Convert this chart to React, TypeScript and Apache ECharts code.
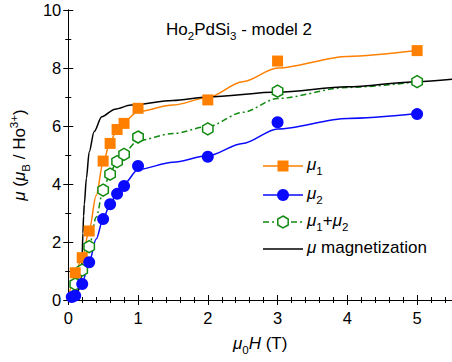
import React, { useEffect, useRef } from "react";
import * as echarts from "echarts";

// ---- data ----
const fieldX = [0.1, 0.2, 0.3, 0.5, 0.6, 0.7, 0.8, 1, 2, 3, 5];
const mu1Values = [0.94, 1.46, 2.38, 4.79, 5.4, 5.88, 6.09, 6.61, 6.9, 8.24, 8.6];
const mu2X = [0.05, 0.1, 0.2, 0.3, 0.5, 0.6, 0.7, 0.8, 1, 2, 3, 5];
const mu2Values = [0.1, 0.15, 0.55, 1.3, 2.79, 3.3, 3.66, 3.93, 4.62, 4.94, 6.13, 6.41];
const mu12Values = [0.55, 1.03, 1.84, 3.79, 4.34, 4.77, 5.02, 5.62, 5.9, 7.2, 7.53];

const fitX = [0, 0.05, 0.1, 0.2, 0.3, 0.4, 0.5, 0.6, 0.7, 0.8, 1, 1.5, 2, 2.5, 3, 4, 5];
const fit1 = [0, 0.5, 0.95, 1.45, 2.4, 3.6, 4.75, 5.45, 5.9, 6.15, 6.5, 6.72, 6.98, 7.53, 8.0, 8.4, 8.6];
const fit2 = [0, 0.08, 0.15, 0.6, 1.3, 2.1, 2.8, 3.3, 3.7, 4.0, 4.5, 4.75, 4.97, 5.4, 5.9, 6.26, 6.43];
const fit12 = [0, 0.29, 0.55, 1.03, 1.85, 2.85, 3.78, 4.38, 4.8, 5.08, 5.5, 5.74, 5.98, 6.47, 6.95, 7.33, 7.52];

const magX = [0, 0.1, 0.15, 0.19, 0.2, 0.21, 0.22, 0.23, 0.26, 0.3, 0.37, 0.48, 0.67, 0.9, 1.5, 2, 3, 4, 5, 5.5];
const magValues = [0, 0.15, 0.35, 0.8, 1.6, 2.3, 2.9, 3.3, 4.2, 5.1, 5.8, 6.32, 6.58, 6.72, 6.88, 7.0, 7.17, 7.35, 7.53, 7.61];

const xTicks = [0, 1, 2, 3, 4, 5];
const yTicks = [0, 2, 4, 6, 8, 10];

const ORANGE = "#ff8000";
const BLUE = "#0a0aff";
const GREEN = "#108a10";
const FONT = "'Liberation Sans', Arial, sans-serif";
const HEX = "path://M0,-10L8.66,-5L8.66,5L0,10L-8.66,5L-8.66,-5Z";
const GREEN_DASH = [6, 3, 2, 3];

const pairs = (xs: number[], ys: number[]) => xs.map((x, i) => [x, ys[i]]);

const mkRich = (size: number) => {
  const base = { fontFamily: FONT, color: "#000", fontWeight: "normal", verticalAlign: "bottom" };
  const small = size * 0.68;
  return {
    n: { ...base, fontSize: size, lineHeight: 20, padding: [0, 0, 4, 0] },
    i: { ...base, fontSize: size, lineHeight: 20, padding: [0, 0, 4, 0], fontStyle: "italic" },
    s: { ...base, fontSize: small, lineHeight: 14 },
    p: { ...base, fontSize: small, lineHeight: 14, padding: [0, 0, 12, 0] },
  };
};

export default function App() {
  const ref = useRef<HTMLDivElement>(null);
  useEffect(() => {
    if (!ref.current) return;
    const chart = echarts.init(ref.current, null, { renderer: "svg" });
    const rich = mkRich(17);
    const axisCommon = {
      axisLine: { show: true, lineStyle: { color: "#000", width: 1 } },
      axisTick: { show: true, inside: true, length: 5, lineStyle: { color: "#000", width: 1 } },
      minorTick: { show: true, length: 3, lineStyle: { color: "#000", width: 1 } },
      splitLine: { show: false },
      minorSplitLine: { show: false },
    };
    const xBase = { type: "value", min: 0, max: 5.5, interval: 1, ...axisCommon, minorTick: { ...axisCommon.minorTick, splitNumber: 5 } };
    const yBase = { type: "value", min: 0, max: 10, interval: 2, ...axisCommon, minorTick: { ...axisCommon.minorTick, splitNumber: 2 } };

    const legendRows = [166, 195, 222, 249];
    const lx1 = 263, lx2 = 303, lxm = 283, tx = 307;
    const hexPts = (cx: number, cy: number, r: number) =>
      [0, 1, 2, 3, 4, 5].map((k) => {
        const a = -Math.PI / 2 + (k * Math.PI) / 3;
        return [cx + r * Math.cos(a), cy + r * Math.sin(a)];
      });
    const legendText = [
      "{i|μ}{s|1}",
      "{i|μ}{s|2}",
      "{i|μ}{s|1}{n|+}{i|μ}{s|2}",
      "{i|μ}{n| magnetization}",
    ];

    chart.setOption({
      animation: false,
      backgroundColor: "#fff",
      title: {
        text: "{n|Ho}{s|2}{n|PdSi}{s|3}{n| - model 2}",
        left: 166,
        top: 22,
        padding: 0,
        textStyle: { rich, fontWeight: "normal" },
      },
      grid: { left: 62, top: 10, width: 390, height: 290, containLabel: false },
      xAxis: [
        {
          ...xBase,
          position: "bottom",
          axisLabel: {
            show: true,
            fontSize: 16.5,
            color: "#000",
            fontFamily: FONT,
            margin: 9,
            showMaxLabel: false,
            formatter: (v: number) => (xTicks.includes(v) ? String(v) : ""),
          },
          name: "{i|μ}{s|0}{i|H}{n| (T)}",
          nameLocation: "middle",
          nameGap: 36,
          nameTextStyle: { rich },
        },
        { ...xBase, position: "top", axisLabel: { show: false } },
      ],
      yAxis: [
        {
          ...yBase,
          position: "left",
          axisLabel: {
            show: true,
            fontSize: 16.5,
            color: "#000",
            fontFamily: FONT,
            margin: 7,
            formatter: (v: number) => (yTicks.includes(v) ? String(v) : ""),
          },
          name: "{i|μ}{n| (}{i|μ}{s|B}{n| / Ho}{p|3+}{n|)}",
          nameLocation: "middle",
          nameGap: 19,
          nameTextStyle: { rich },
        },
        { ...yBase, position: "right", axisLabel: { show: false } },
      ],
      series: [
        {
          type: "line", data: pairs(fitX, fit1), smooth: 0.3, smoothMonotone: "x", showSymbol: false,
          lineStyle: { color: ORANGE, width: 1.5 }, z: 2,
        },
        {
          type: "line", data: pairs(fitX, fit2), smooth: 0.3, smoothMonotone: "x", showSymbol: false,
          lineStyle: { color: BLUE, width: 1.5 }, z: 2,
        },
        {
          type: "line", data: pairs(fitX, fit12), smooth: 0.3, smoothMonotone: "x", showSymbol: false,
          lineStyle: { color: GREEN, width: 1.5, type: GREEN_DASH }, z: 2,
        },
        {
          type: "line", data: pairs(magX, magValues), smooth: 0.3, smoothMonotone: "x", showSymbol: false,
          lineStyle: { color: "#000", width: 1.5 }, z: 3,
        },
        {
          type: "scatter", data: pairs(fieldX, mu12Values), symbol: HEX, symbolKeepAspect: true, symbolSize: 12,
          itemStyle: { color: "#fff", borderColor: GREEN, borderWidth: 1.5, opacity: 1 }, z: 4,
        },
        {
          type: "scatter", data: pairs(fieldX, mu1Values), symbol: "rect", symbolSize: 11,
          itemStyle: { color: ORANGE, opacity: 1 }, z: 5,
        },
        {
          type: "scatter", data: pairs(mu2X, mu2Values), symbol: "circle", symbolSize: 12,
          itemStyle: { color: BLUE, opacity: 1 }, z: 6,
        },
      ],
      graphic: [
        { type: "line", shape: { x1: lx1, y1: legendRows[0], x2: lx2, y2: legendRows[0] }, style: { stroke: ORANGE, lineWidth: 1.5 } },
        { type: "rect", shape: { x: lxm - 5.5, y: legendRows[0] - 5.5, width: 11, height: 11 }, style: { fill: ORANGE } },
        { type: "line", shape: { x1: lx1, y1: legendRows[1], x2: lx2, y2: legendRows[1] }, style: { stroke: BLUE, lineWidth: 1.5 } },
        { type: "circle", shape: { cx: lxm, cy: legendRows[1], r: 6 }, style: { fill: BLUE } },
        { type: "line", shape: { x1: lx1, y1: legendRows[2], x2: lx2, y2: legendRows[2] }, style: { stroke: GREEN, lineWidth: 1.5, lineDash: GREEN_DASH } },
        { type: "polygon", shape: { points: hexPts(lxm, legendRows[2], 6) }, style: { fill: "#fff", stroke: GREEN, lineWidth: 1.5 } },
        { type: "line", shape: { x1: lx1, y1: legendRows[3], x2: lx2, y2: legendRows[3] }, style: { stroke: "#000", lineWidth: 1.5 } },
        ...legendText.map((t, k) => ({
          type: "text",
          x: tx,
          y: legendRows[k] - 9,
          style: { text: t, rich, align: "left", verticalAlign: "top" },
        })),
      ],
    });
    return () => chart.dispose();
  }, []);
  return <div ref={ref} style={{ position: "fixed", left: 0, top: 0, width: 452, height: 362 }} />;
}
